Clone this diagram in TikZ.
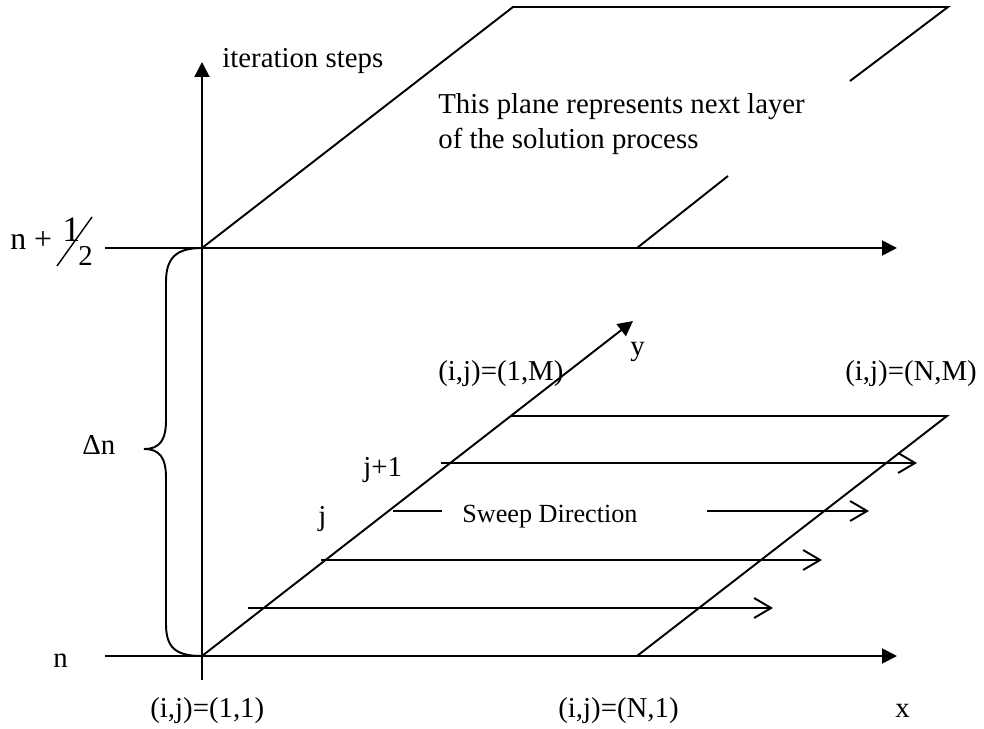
\documentclass[tikz,border=0pt]{standalone}
\usepackage{fontspec}
\setmainfont{Liberation Serif}
\usetikzlibrary{arrows.meta}

\begin{document}
\begin{tikzpicture}[
    x=0.02cm, y=-0.02cm,
    ax/.style={line width=1.1pt, -{Triangle[length=0.3cm, width=0.3cm]}},
    edge/.style={line width=1.1pt},
    sweep/.style={line width=1.1pt, -{Straight Barb[length=0.34cm, width=0.4cm]}},
    lbl/.style={font=\fontsize{16.4}{19.8}\selectfont, inner sep=0pt, anchor=base west},
    small/.style={font=\fontsize{14.9}{18}\selectfont, inner sep=0pt, anchor=base west}
  ]
  \useasboundingbox (0,0) rectangle (984,729);

  % ---- points of the two levels -------------------------------------
  \coordinate (O)    at (202,656);
  \coordinate (H)    at (202,248);
  \coordinate (vbot) at (202,680);
  \coordinate (vtop) at (202,62);
  \coordinate (nl)   at (105,656);
  \coordinate (nr)   at (897,656);
  \coordinate (hl)   at (105,248);
  \coordinate (hr)   at (897,248);

  % ---- axes -----------------------------------------------------------
  \draw[ax] (vbot) -- (vtop);
  \draw[ax] (hl) -- (hr);
  \draw[ax] (nl) -- (nr);

  % ---- upper plane (level n+1/2) ----------------------------------------
  \coordinate (ua) at (513,7);
  \coordinate (ub) at (948,7);
  \coordinate (uc) at (850,81);
  \coordinate (ud) at (728,176);
  \coordinate (ue) at (637,248);
  \draw[edge] (H) -- (ua) -- (ub) -- (uc);
  \draw[edge] (ud) -- (ue);

  % ---- lower plane (level n) ------------------------------------------
  \coordinate (ytip) at (633,321);
  \coordinate (la)   at (511,416);
  \coordinate (lb)   at (947,416);
  \coordinate (lc)   at (637,656);
  \draw[ax] (O) -- (ytip);
  \draw[edge] (la) -- (lb) -- (lc);

  % ---- sweep lines ----------------------------------------------------
  \coordinate (s1a) at (441,463); \coordinate (s1b) at (917,463);
  \coordinate (s2a) at (393,511); \coordinate (s2b) at (442,511);
  \coordinate (s2c) at (707,511); \coordinate (s2d) at (869,511);
  \coordinate (s3a) at (321,560); \coordinate (s3b) at (822,560);
  \coordinate (s4a) at (248,608); \coordinate (s4b) at (773,608);
  \draw[sweep] (s1a) -- (s1b);
  \draw[edge]  (s2a) -- (s2b);
  \draw[sweep] (s2c) -- (s2d);
  \draw[sweep] (s3a) -- (s3b);
  \draw[sweep] (s4a) -- (s4b);

  % ---- brace between the levels ---------------------------------------
  \coordinate (bt) at (144,449);
  \draw[edge] (H) .. controls (176,248) and (166,258) .. (166,282) -- (166,420)
      .. controls (166,440) and (160,449) .. (bt)
      .. controls (160,449) and (166,458) .. (166,478) -- (166,624)
      .. controls (166,648) and (176,656) .. (O);

  % ---- labels ---------------------------------------------------------
  \node[lbl] (iter) at (222,68)  {iteration steps};
  \node[lbl, align=left, anchor=north west] (note) at (438,93)
    {This plane represents next layer\\of the solution process};
  \node[lbl, font=\fontsize{18.1}{20}\selectfont] (nhalf) at (10,250) {n +};
  \node[lbl, font=\fontsize{20.4}{22}\selectfont] (one) at (62,242) {1};
  \node[lbl] (two) at (78,266) {2};
  \draw[line width=0.8pt] (57,266) coordinate (sla) -- (92,217) coordinate (slb);
  \node[lbl] (dn)  at (82,455)  {Δn};
  \node[lbl] (n)   at (53,667)  {n};
  \node[lbl] (p11) at (150,717) {(i,j)=(1,1)};
  \node[lbl] (pN1) at (558,717) {(i,j)=(N,1)};
  \node[lbl] (xl)  at (895,717) {x};
  \node[lbl] (p1M) at (438,381) {(i,j)=(1,M)};
  \node[lbl] (pNM) at (845,381) {(i,j)=(N,M)};
  \node[lbl] (yl)  at (630,356) {y};
  \node[lbl] (jp)  at (363,477) {j+1};
  \node[lbl] (j)   at (318,525) {j};
  \node[small] (sw) at (462,522) {Sweep Direction};

\end{tikzpicture}
\end{document}
